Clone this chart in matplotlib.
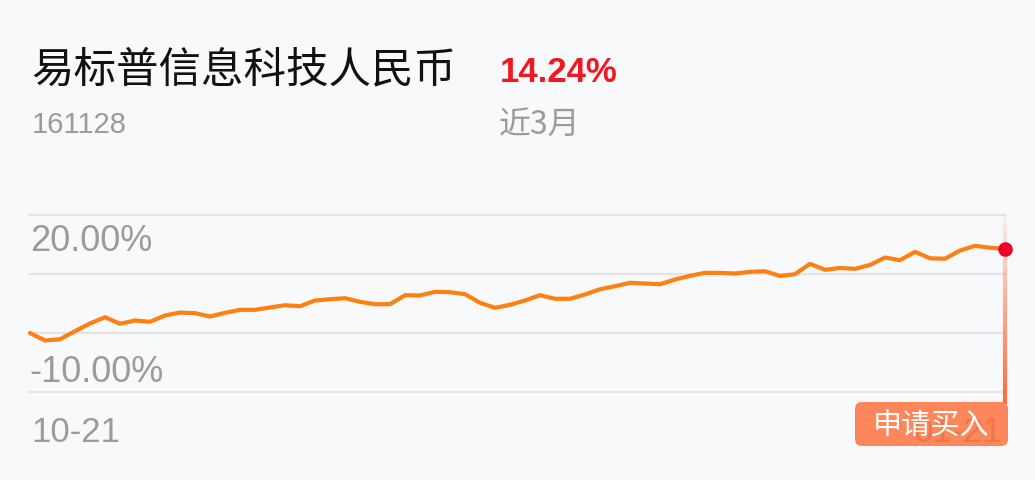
import matplotlib
matplotlib.use("Agg")
import matplotlib.pyplot as plt
import numpy as np
from matplotlib.collections import LineCollection
from matplotlib.patches import FancyBboxPatch
from matplotlib.colors import to_rgba
from matplotlib import font_manager as fm

# ---------------- data ----------------
fund_name = "易标普信息科技人民币"
fund_code = "161128"
period_label = "近3月"
period_return = "14.24%"
start_date = "10-21"
end_date = "01-21"
y_labels = ["20.00%", "-10.00%"]
y_min, y_max = -10, 20
grid_levels = [20, 10, 0, -10]
returns = [
    0.00, -1.27, -1.05, 0.31, 1.61, 2.68, 1.56, 2.12, 1.90, 2.97,
    3.47, 3.36, 2.80, 3.42, 3.93, 3.93, 4.32, 4.71, 4.54, 5.51,
    5.73, 5.90, 5.29, 4.88, 4.88, 6.41, 6.36, 6.98, 6.92, 6.58,
    5.12, 4.27, 4.78, 5.51, 6.41, 5.80, 5.80, 6.53, 7.42, 7.93,
    8.51, 8.39, 8.27, 9.07, 9.69, 10.20, 10.20, 10.08, 10.37, 10.47,
    9.66, 9.97, 11.73, 10.71, 11.02, 10.88, 11.53, 12.80, 12.34, 13.76,
    12.66, 12.59, 13.98, 14.78, 14.46, 14.24,
]
button_text = "申请买入"

# ---------------- fonts ----------------
_names = {f.name for f in fm.fontManager.ttflist}
_has_narrow = "Liberation Sans Narrow" in _names
CJK = ["Noto Sans CJK SC", "DejaVu Sans"]
ARIAL = ["Liberation Sans", "DejaVu Sans"]
if _has_narrow:
    NARROW = ["Liberation Sans Narrow", "DejaVu Sans"]
    ret_size, code_size = 28, 24
else:
    NARROW = ARIAL
    ret_size, code_size = 25, 21

# ---------------- figure ----------------
W, H = 1035, 480
DPI = 100
BG = "#F8F9FB"
GRAY = "#9B9B9B"
ORANGE = "#FF8012"

fig = plt.figure(figsize=(W / DPI, H / DPI), dpi=DPI, facecolor=BG)


def px(x, y):
    return x / W, 1 - y / H


# plot area: x 30..1005 px, y 215 (20%) .. 392 (-10%)
ax = fig.add_axes([30 / W, (H - 392) / H, 975 / W, 177 / H])
ax.set_facecolor("none")
for s in ax.spines.values():
    s.set_visible(False)
ax.set_xticks([])
ax.set_yticks([])
n = len(returns)
x = np.arange(n)
ax.set_xlim(0, n - 1)
ax.set_ylim(y_min, y_max)

for g in grid_levels:
    ax.plot([0, n - 1], [g, g], color="#E3E4E6", lw=1.6, clip_on=False, zorder=1)

# gradient vertical guide line at last point
y_top, y_bot = 20, -12.0
ys = np.linspace(y_top, y_bot, 80)
segs = [[(n - 1, ys[i]), (n - 1, ys[i + 1])] for i in range(len(ys) - 1)]
base = np.array(to_rgba("#FF6B3A"))
cols = []
for i in range(len(ys) - 1):
    t = i / (len(ys) - 2)
    c = base.copy()
    c[3] = 0.04 + 0.96 * t ** 0.9
    cols.append(c)
lc = LineCollection(segs, colors=cols, linewidths=3.0, clip_on=False, zorder=2,
                    capstyle="butt")
ax.add_collection(lc)

ax.plot(x, returns, color=ORANGE, lw=3.0, solid_joinstyle="round",
        solid_capstyle="round", clip_on=False, zorder=3)
ax.plot([x[-1]], [returns[-1]], "o", color="#F0002B", ms=10.5, mec="none",
        clip_on=False, zorder=4)

# ---------------- header texts ----------------
fig.text(*px(31, 82), fund_name, family=CJK, fontsize=30.6, color="#111111",
         va="baseline", ha="left")
fig.text(*px(500, 82), period_return, family=NARROW, fontsize=ret_size,
         fontweight="bold", color="#EE1A22", va="baseline", ha="left")
fig.text(*px(32, 133), fund_code, family=NARROW, fontsize=code_size, color=GRAY,
         va="baseline", ha="left")
fig.text(*px(499, 134), period_label, family=CJK, fontsize=23, color=GRAY,
         va="baseline", ha="left")

# ---------------- axis labels ----------------
fig.text(*px(30, 251), y_labels[0], family=ARIAL, fontsize=26, color=GRAY,
         va="baseline", ha="left")
fig.text(*px(29, 382), y_labels[1], family=ARIAL, fontsize=26, color=GRAY,
         va="baseline", ha="left")
fig.text(*px(31, 442), start_date, family=ARIAL, fontsize=25, color=GRAY,
         va="baseline", ha="left")
fig.text(*px(1003, 442), end_date, family=ARIAL, fontsize=25, color="#8A8A8A",
         va="baseline", ha="right", zorder=5)

# ---------------- button ----------------
bx0, by0, bx1, by1 = 855, 402, 1008, 446
btn = FancyBboxPatch((bx0 + 6, H - by1 + 6), (bx1 - bx0) - 12, (by1 - by0) - 12,
                     boxstyle="round,pad=6,rounding_size=7",
                     transform=None, facecolor="#FF7440", edgecolor="none",
                     alpha=0.86, zorder=6)
fig.patches.append(btn)
fig.text(*px((bx0 + bx1) / 2, 426), button_text, family=CJK, fontsize=21,
         color="white", va="center", ha="center", zorder=7)

fig.savefig("out.png", dpi=DPI, facecolor=BG)
